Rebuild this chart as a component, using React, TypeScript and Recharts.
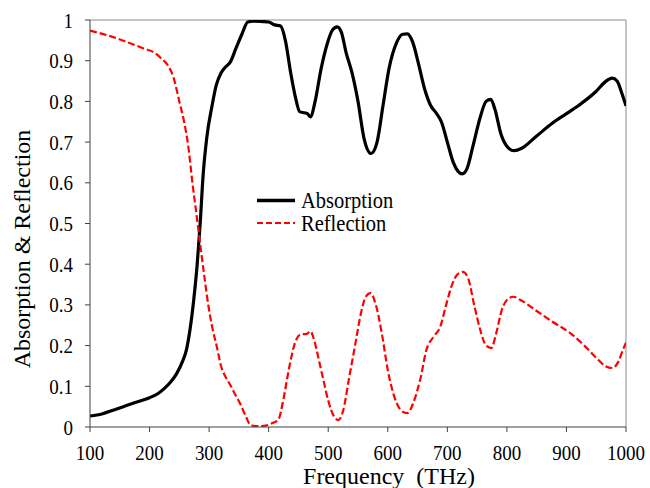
import { LineChart, Line, XAxis, YAxis, Legend, ReferenceLine } from 'recharts';

// full-window chart, no default body margin
document.body.style.margin = '0';
document.body.style.overflow = 'hidden';

const absFreq = [
  100, 120, 140, 160, 180, 200, 215, 225, 235, 245, 255, 262, 268, 274, 280, 285, 290, 296, 305, 312,
  320, 328, 335, 345, 355, 365, 375, 390, 400, 410, 420, 428, 437, 445, 452, 460, 465, 470, 478, 488,
  498, 507, 515, 522, 530, 540, 550, 560, 572, 582, 592, 602, 615, 625, 633, 642, 652, 662, 672, 682,
  690, 700, 710, 718, 725, 733, 743, 755, 765, 773, 780, 790, 800, 812, 825, 850, 875, 900, 925, 950,
  965, 977, 985, 993, 1000,
];
const absorption = [
  0.027, 0.032, 0.042, 0.052, 0.062, 0.072, 0.083, 0.095, 0.11, 0.13, 0.16, 0.19, 0.24, 0.31, 0.4, 0.5, 0.62, 0.71, 0.79, 0.84,
  0.87, 0.885, 0.895, 0.93, 0.965, 0.995, 0.997, 0.996, 0.995, 0.988, 0.985, 0.95, 0.87, 0.81, 0.775, 0.772, 0.77, 0.762, 0.8, 0.88,
  0.94, 0.975, 0.983, 0.97, 0.92, 0.87, 0.8, 0.71, 0.672, 0.7, 0.79, 0.88, 0.945, 0.965, 0.966, 0.945, 0.89, 0.83, 0.79, 0.77,
  0.75, 0.7, 0.65, 0.628, 0.622, 0.635, 0.69, 0.76, 0.8, 0.805, 0.78, 0.72, 0.69, 0.679, 0.685, 0.715, 0.745, 0.77, 0.795, 0.825,
  0.848, 0.857, 0.85, 0.82, 0.789,
];

const refFreq = [
  100, 130, 160, 190, 210, 220, 230, 240, 250, 258, 265, 272, 279, 285, 292, 299, 306, 313, 320, 327,
  333, 342, 352, 362, 370, 385, 397, 407, 416, 425, 435, 445, 455, 463, 470, 477, 485, 492, 500, 510,
  517, 525, 535, 545, 555, 563, 571, 580, 590, 600, 612, 623, 633, 643, 655, 665, 677, 688, 698, 708,
  717, 726, 735, 745, 755, 765, 774, 782, 792, 802, 811, 825, 850, 875, 907, 930, 950, 965, 977, 987,
  995, 1000,
];
const reflection = [
  0.974, 0.962, 0.947, 0.93, 0.918, 0.905, 0.89, 0.86, 0.8, 0.75, 0.69, 0.6, 0.52, 0.45, 0.37, 0.296, 0.24, 0.197, 0.15, 0.125,
  0.11, 0.085, 0.058, 0.025, 0.004, 0.002, 0.004, 0.01, 0.017, 0.07, 0.15, 0.21, 0.228, 0.228, 0.235, 0.21, 0.16, 0.115, 0.065, 0.025,
  0.017, 0.04, 0.12, 0.2, 0.28, 0.32, 0.329, 0.3, 0.23, 0.14, 0.07, 0.04, 0.034, 0.06, 0.12, 0.19, 0.222, 0.246, 0.3, 0.35,
  0.375, 0.381, 0.365, 0.3, 0.24, 0.2, 0.194, 0.23, 0.29, 0.315, 0.32, 0.31, 0.285, 0.26, 0.23, 0.2, 0.17, 0.15, 0.145, 0.16,
  0.19, 0.207,
];

const xTicks = [100, 200, 300, 400, 500, 600, 700, 800, 900, 1000];
const yTicks = [0, 0.1, 0.2, 0.3, 0.4, 0.5, 0.6, 0.7, 0.8, 0.9, 1];

const absData = absFreq.map((f, i) => ({ f, v: absorption[i] }));
const refData = refFreq.map((f, i) => ({ f, v: reflection[i] }));

const FONT = 'Liberation Serif';
const AXIS = '#404040';
const FRAME = '#8a8a8a';

function XTick({ x, payload }: any) {
  return (
    <text transform={`translate(${x},460) scale(1,1.12)`} textAnchor="middle" fontFamily={FONT} fontSize={19} fill="#000">
      {payload.value}
    </text>
  );
}

function YTick({ y, payload }: any) {
  const label = String(Math.round(payload.value * 10) / 10);
  return (
    <text transform={`translate(73,${y + 7.5}) scale(1,1.12)`} textAnchor="end" fontFamily={FONT} fontSize={19} fill="#000">
      {label}
    </text>
  );
}

function XLabel() {
  return (
    <text x={389} y={484} textAnchor="middle" fontFamily={FONT} fontSize={24} wordSpacing={6} fill="#000">
      Frequency (THz)
    </text>
  );
}

function YLabel() {
  return (
    <text transform="translate(30,249) rotate(-90)" textAnchor="middle" fontFamily={FONT} fontSize={24} fill="#000">
      Absorption &amp; Reflection
    </text>
  );
}

function renderLegend() {
  return (
    <svg width={170} height={50} style={{ display: 'block' }}>
      <line x1={0} y1={12.5} x2={38} y2={12.5} stroke="#000" strokeWidth={3.5} />
      <text transform="translate(44,19.5) scale(1,1.08)" fontFamily={FONT} fontSize={20.5} fill="#000">
        Absorption
      </text>
      <line x1={0} y1={35} x2={38} y2={35} stroke="#ff0000" strokeWidth={2.2} strokeDasharray="6 3" />
      <text transform="translate(44,42.5) scale(1,1.08)" fontFamily={FONT} fontSize={20.5} fill="#000">
        Reflection
      </text>
    </svg>
  );
}

export default function App() {
  return (
    <LineChart width={650} height={488} margin={{ top: 20, right: 24, left: 0, bottom: 0 }}>
      <XAxis
        dataKey="f"
        type="number"
        domain={[100, 1000]}
        ticks={xTicks}
        allowDataOverflow
        height={61}
        tickSize={5}
        stroke={AXIS}
        tick={<XTick />}
        label={<XLabel />}
      />
      <YAxis
        dataKey="v"
        type="number"
        domain={[0, 1]}
        ticks={yTicks}
        allowDataOverflow
        width={90}
        tickSize={5}
        stroke={AXIS}
        tick={<YTick />}
        label={<YLabel />}
      />
      {/* light frame on the top and right edges of the plot */}
      <ReferenceLine y={1} stroke={FRAME} strokeWidth={1} />
      <ReferenceLine x={1000} stroke={FRAME} strokeWidth={1} />
      <Legend
        layout="vertical"
        align="center"
        verticalAlign="middle"
        content={renderLegend}
        wrapperStyle={{ left: 257, top: 188, width: 170, height: 50 }}
      />
      <Line
        data={absData}
        dataKey="v"
        name="Absorption"
        type="monotone"
        stroke="#000"
        strokeWidth={3.2}
        dot={false}
        activeDot={false}
        isAnimationActive={false}
      />
      <Line
        data={refData}
        dataKey="v"
        name="Reflection"
        type="monotone"
        stroke="#ff0000"
        strokeWidth={2.2}
        strokeDasharray="7 3"
        dot={false}
        activeDot={false}
        isAnimationActive={false}
      />
    </LineChart>
  );
}
